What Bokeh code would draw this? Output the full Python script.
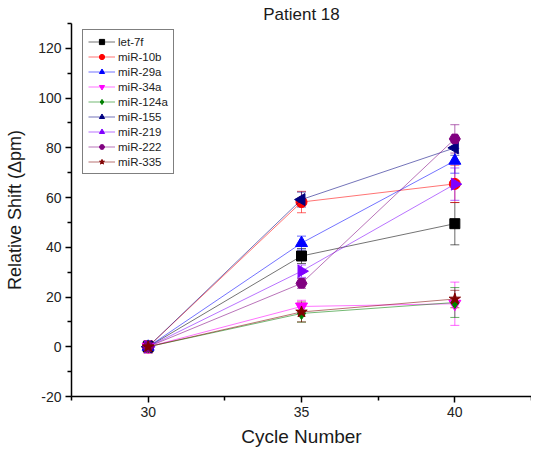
import math
from bokeh.plotting import figure
from bokeh.models import ColumnDataSource, Whisker, TeeHead, Range1d, Legend, FixedTicker, PrintfTickFormatter
from bokeh.embed import file_html
from bokeh.resources import INLINE

cycles = [30, 35, 40]
names = ["let-7f", "miR-10b", "miR-29a", "miR-34a", "miR-124a", "miR-155", "miR-219", "miR-222", "miR-335"]
let7f = [0.0, 36.5, 49.5]
mir10b = [0.0, 58.2, 65.5]
mir29a = [0.0, 41.7, 74.8]
mir34a = [0.0, 16.2, 17.3]
mir124a = [0.0, 13.4, 17.8]
mir155 = [0.0, 59.2, 80.0]
mir219 = [0.0, 30.4, 65.4]
mir222 = [0.0, 25.5, 83.6]
mir335 = [0.0, 14.0, 19.2]
err_let7f = [2.0, 3.0, 8.5]
err_mir10b = [2.0, 4.3, 7.5]
err_mir29a = [2.0, 2.8, 5.0]
err_mir34a = [2.5, 2.5, 8.7]
err_mir124a = [2.0, 3.5, 6.0]
err_mir155 = [2.0, 3.0, 3.0]
err_mir219 = [2.0, 2.5, 6.5]
err_mir222 = [2.0, 2.0, 5.7]
err_mir335 = [2.5, 4.0, 3.5]

series = [let7f, mir10b, mir29a, mir34a, mir124a, mir155, mir219, mir222, mir335]
errors = [err_let7f, err_mir10b, err_mir29a, err_mir34a, err_mir124a, err_mir155, err_mir219, err_mir222, err_mir335]
colors = ["#000000", "#ff0000", "#0000ff", "#ff00ff", "#008000", "#000080", "#8000ff", "#800080", "#800000"]
markers = ["square", "circle", "triangle", "inverted_triangle", "diamond", "triangle", "triangle", "hex", "star"]
angles = [0, 0, 0, 0, 0, math.pi / 2, -math.pi / 2, 0, 0]
sizes = [10, 11, 12, 12, 12, 12, 12, 11, 12]

p = figure(width=531, height=450, output_backend="svg", toolbar_location=None,
           x_range=Range1d(27.5, 42.5), y_range=Range1d(-20, 130),
           min_border_left=71, min_border_right=0, min_border_top=23, min_border_bottom=54)
p.outline_line_color = None
p.grid.visible = False
p.background_fill_color = "white"
p.border_fill_color = "white"

p.title.text = "Patient 18"
p.title.align = "center"
p.title.text_font = "Liberation Sans"
p.title.text_font_size = "17px"
p.title.text_font_style = "normal"
p.title.text_color = "#1a1a1a"
p.title.standoff = 0
p.title.offset = 0

p.xaxis.ticker = FixedTicker(ticks=[30, 35, 40], minor_ticks=[27.5, 32.5, 37.5, 42.5])
p.yaxis.ticker = FixedTicker(ticks=[-20, 0, 20, 40, 60, 80, 100, 120], minor_ticks=[-10, 10, 30, 50, 70, 90, 110, 130])
for ax in (p.xaxis[0], p.yaxis[0]):
    ax.formatter = PrintfTickFormatter(format="%d")
    ax.axis_line_width = 1.5
    ax.axis_line_color = "black"
    ax.major_tick_line_color = "black"
    ax.major_tick_line_width = 1.5
    ax.minor_tick_line_color = "black"
    ax.minor_tick_line_width = 1.5
    ax.major_tick_out = 6
    ax.major_tick_in = 0
    ax.minor_tick_out = 4
    ax.minor_tick_in = 0
    ax.major_label_standoff = 4
    ax.major_label_text_font = "Liberation Sans"
    ax.major_label_text_font_size = "14px"
    ax.major_label_text_color = "#222222"
    ax.axis_label_text_font = "Liberation Sans"
    ax.axis_label_text_font_style = "normal"
    ax.axis_label_text_color = "#1a1a1a"
p.xaxis.axis_label = "Cycle Number"
p.yaxis.axis_label = "Relative Shift (Δpm)"
p.xaxis.axis_label_text_font_size = "19px"
p.yaxis.axis_label_text_font_size = "18px"
p.xaxis.axis_label_standoff = 6
p.yaxis.axis_label_standoff = 10

items = []
for name, ys, es, c, m, a, s in zip(names, series, errors, colors, markers, angles, sizes):
    src = ColumnDataSource(dict(x=cycles, y=ys,
                                lo=[v - e for v, e in zip(ys, es)],
                                hi=[v + e for v, e in zip(ys, es)]))
    w = Whisker(source=src, base="x", upper="hi", lower="lo", line_color=c, line_alpha=0.6, line_width=1,
                upper_head=TeeHead(size=9, line_color=c, line_alpha=0.6, line_width=1),
                lower_head=TeeHead(size=9, line_color=c, line_alpha=0.6, line_width=1))
    p.add_layout(w)
    ln = p.line("x", "y", source=src, line_color=c, line_alpha=0.55, line_width=1)
    sc = p.scatter("x", "y", source=src, marker=m, angle=a, size=s, fill_color=c, line_color=c)
    items.append((name, [ln, sc]))

legend = Legend(items=items, location=(11, 222))
legend.label_text_font = "Liberation Sans"
legend.label_text_font_size = "11.5px"
legend.label_text_color = "#222222"
legend.glyph_height = 13
legend.glyph_width = 27
legend.label_height = 13
legend.spacing = 2
legend.padding = 5
legend.margin = 0
legend.label_standoff = 3
legend.border_line_color = "black"
legend.border_line_width = 1
legend.background_fill_alpha = 1
p.add_layout(legend, "center")

open("out.html", "w").write(file_html(p, INLINE))
